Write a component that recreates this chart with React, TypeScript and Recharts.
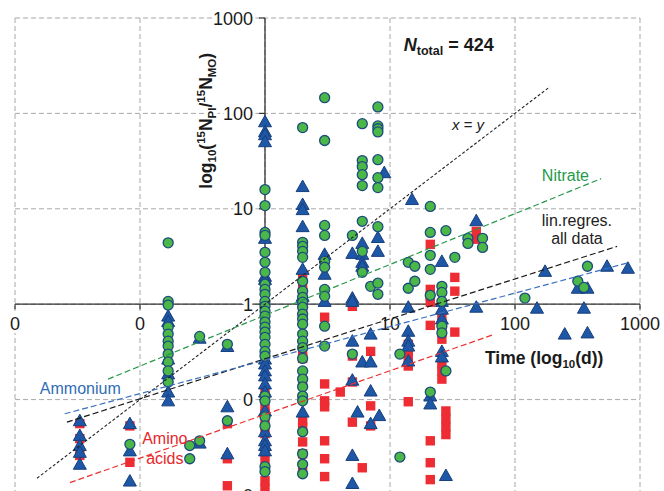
import React from 'react';
import { ScatterChart, Scatter, XAxis, YAxis, CartesianGrid, ReferenceDot } from 'recharts';

// decade ticks, shared by both log axes
const decades = [0.01, 0.1, 1, 10, 100, 1000];
const xTickLabels = ['0', '0', '1', '10', '100', '1000'];
const yTickLabels = ['0', '0', '1', '10', '100', '1000'];

// [time (d), 15N_PI / 15N_MO]
const nitrate: [number, number][] = [
  [0.083, 0.034],
  [0.168, 4.4], [0.168, 1.07], [0.168, 0.98], [0.168, 0.575], [0.168, 0.486], [0.168, 0.41],
  [0.168, 0.364], [0.168, 0.3], [0.168, 0.248], [0.168, 0.2], [0.168, 0.153],
  [0.25, 0.033], [0.25, 0.024], [0.3, 0.46], [0.3, 0.037], [0.5, 0.38], [0.5, 0.06],
  [1, 15.9], [1, 10.8], [1, 5.65], [1, 5.26], [1, 3.5], [1, 2.75], [1, 2.16], [1, 1.62], [1, 1.43],
  [1, 1.27], [1, 1.07], [1, 0.95], [1, 0.845], [1, 0.75], [1, 0.65], [1, 0.575], [1, 0.51],
  [1, 0.45], [1, 0.38], [1, 0.32], [1, 0.286], [1, 0.109], [1, 0.097], [1, 0.066], [1, 0.053],
  [1, 0.0198], [1, 0.0176],
  [2, 71], [2, 4.45], [2, 4.04], [2, 3.58], [2, 3.1], [2, 1.74], [2, 1.37], [2, 1.18], [2, 1.05],
  [2, 0.93], [2, 0.787], [2, 0.7], [2, 0.618], [2, 0.486], [2, 0.41], [2, 0.35], [2, 0.27], [2, 0.2],
  [2, 0.164], [2, 0.136], [2, 0.109], [2, 0.097], [2, 0.046], [2, 0.027], [2, 0.021], [2, 0.0167],
  [3, 146], [3, 52], [3, 6.7], [3, 5.26], [3, 2.81], [3, 2.44], [3, 1.43], [3, 1.21], [3, 0.589], [3, 0.364],
  [5, 5.26], [5, 0.3],
  [6, 78], [6, 32], [6, 27.7], [6, 22.8], [6, 17.5], [6, 7.4], [6, 3.58], [6, 2.16], [7, 1.54],
  [8, 117], [8, 74], [8, 69], [8, 64], [8, 32.7], [8, 21.2], [8, 16.7], [8, 6.5], [8, 1.66], [8, 1.27],
  [12, 0.3], [12, 0.025], [14, 2.75], [14, 1.47], [15.8, 2.5], [15.8, 1.74],
  [21, 10.6], [21, 5.65], [21, 3.25], [21, 2.32], [21, 1.24], [21, 0.12],
  [26, 1.54], [26, 1.33], [26, 1.07], [26, 0.589], [26, 0.5], [28, 5.9], [28, 0.2], [33, 3.1],
  [42, 4.9], [42, 4.34], [55, 4.9], [55, 3.94], [120, 1.16], [318, 1.74], [356, 1.5], [380, 2.5],
];

const ammonium: [number, number][] = [
  [0.033, 0.06], [0.033, 0.042], [0.033, 0.033], [0.033, 0.028], [0.033, 0.021],
  [0.083, 0.056], [0.083, 0.029], [0.083, 0.014],
  [0.168, 0.75], [0.168, 0.66], [0.168, 0.266], [0.168, 0.186], [0.168, 0.12], [0.168, 0.097],
  [0.3, 0.44], [0.3, 0.035], [0.5, 0.36], [0.5, 0.084], [0.5, 0.027],
  [1, 81.7], [1, 64.3], [1, 59.7], [1, 50.5], [1, 4.9], [1, 1.96], [1, 1.82], [1, 0.266], [1, 0.236],
  [1, 0.2], [1, 0.177], [1, 0.146], [1, 0.12], [1, 0.076], [1, 0.046], [1, 0.037], [1, 0.033], [1, 0.029],
  [2, 17.1], [2, 11.1], [2, 9.8], [2, 6.5], [2, 2.32], [2, 1.21], [2, 0.074],
  [3, 3.33], [3, 2.06], [3, 1.07],
  [5, 3.41], [5, 1.16], [5, 1.07], [5, 0.41], [5, 0.16], [5, 0.026], [5, 0.0132], [5.5, 0.074],
  [6, 4.34], [6, 3.33], [6, 2.75], [6, 2.5], [6, 0.248],
  [7, 0.486], [7, 0.248], [7, 0.123], [7, 0.056], [8, 5.0], [8, 3.58], [8.2, 0.068], [9, 23.9],
  [15, 12.5], [14, 0.93], [14, 0.52], [14, 0.41], [14, 0.364], [14, 0.254], [21, 0.109], [21, 0.09],
  [26, 2.81], [26, 1.07], [26, 0.887], [26, 0.7], [26, 0.32], [26, 0.28], [28, 0.016],
  [49, 7.5], [49, 0.93], [150, 0.908], [174, 2.21], [250, 0.486], [318, 1.47], [356, 0.908],
  [380, 1.47], [380, 0.5], [545, 2.5], [800, 2.38],
];

const aminoAcids: [number, number][] = [
  [0.033, 0.056], [0.033, 0.039], [0.033, 0.026], [0.083, 0.053], [0.083, 0.022],
  [0.5, 0.056], [0.5, 0.024], [0.5, 0.0125],
  [1, 0.123], [1, 0.084], [1, 0.071], [1, 0.056], [1, 0.044], [1, 0.029], [1, 0.023], [1, 0.0141], [1, 0.0117],
  [2, 2.06], [2, 1.62], [2, 1.33], [2, 1.07], [2, 0.887], [2, 0.787], [2, 0.38], [2, 0.32], [2, 0.27],
  [2, 0.157], [2, 0.06], [2, 0.052], [2, 0.036], [2, 0.027], [2, 0.0198],
  [3, 0.73], [3, 0.146], [3, 0.097], [3, 0.084], [3, 0.037], [3, 0.024], [3, 0.0156],
  [4, 0.12], [5, 0.95], [5, 0.286], [5, 0.153], [5, 0.058], [6, 0.0193], [7, 0.32], [7, 0.086], [7, 0.053],
  [14, 0.38], [14, 0.32], [14, 0.27], [14, 0.225], [14, 0.095],
  [21, 4.24], [21, 1.43], [21, 1.21], [21, 1.05], [21, 0.6], [21, 0.037], [21, 0.0218], [21, 0.0145],
  [26, 0.75], [26, 0.618], [26, 0.51], [26, 0.43], [26, 0.236], [26, 0.2], [26, 0.164],
  [28, 0.076], [28, 0.063], [28, 0.052], [28, 0.043],
  [33, 1.91], [33, 1.37], [33, 0.51], [49, 5.8], [49, 4.8],
];

// end points of the fitted lines
const oneToOne: [number, number][] = [[0.015, 0.015], [190, 190]];
const nitrateFit: [number, number][] = [[0.0555, 0.164], [488, 20.7]];
const allDataFit: [number, number][] = [[0.026, 0.058], [655, 4.04]];
const ammoniumFit: [number, number][] = [[0.025, 0.071], [832, 2.75]];
const aminoFit: [number, number][] = [[0.0275, 0.0135], [65.5, 0.474]];

const pts = (arr: [number, number][]) => arr.map(([x, y]) => ({ x, y }));

const FONT = '"Liberation Sans", Arial, sans-serif';

// white knock-out behind text, drawn as its own layer so tspans don't erase each other
const HaloText = ({ children, halo = 6, ...rest }: any) => (
  <g>
    <text {...rest} stroke="#fff" strokeWidth={halo} strokeLinejoin="round" fill="#fff">
      {children}
    </text>
    <text {...rest}>{children}</text>
  </g>
);

const NoDot = () => <g />;

const CircleMark = (p: any) => (
  <circle cx={p.cx} cy={p.cy} r={5} fill="#4bb749" stroke="#1d4b7d" strokeWidth={1.3} />
);
const TriangleMark = (p: any) => (
  <polygon
    points={`${p.cx},${p.cy - 6.5} ${p.cx - 6.5},${p.cy + 5} ${p.cx + 6.5},${p.cy + 5}`}
    fill="#1f57a7"
    stroke="#173f7c"
    strokeWidth={1}
  />
);
const SquareMark = (p: any) => (
  <rect x={p.cx - 4.7} y={p.cy - 4.7} width={9.4} height={9.4} fill="#ee2c33" />
);

const XTick = (p: any) => (
  <g>
    <line x1={p.cx} y1={p.cy} x2={p.cx} y2={p.cy + 5} stroke="#333" strokeWidth={1.2} />
    <HaloText x={p.cx} y={p.cy + 26} textAnchor="middle" fontSize={18} fontFamily={FONT} fill="#1a1a1a">
      {p.payload.label}
    </HaloText>
  </g>
);
const YTick = (p: any) => (
  <g>
    <line x1={p.cx - 6} y1={p.cy} x2={p.cx} y2={p.cy} stroke="#333" strokeWidth={1.2} />
    <HaloText x={p.cx - 12} y={p.cy + 6.5} textAnchor="end" fontSize={18} fontFamily={FONT} fill="#1a1a1a">
      {p.payload.label}
    </HaloText>
  </g>
);

const fitLine = (stroke: string, dash = '6 3', width = 1.2) => ({
  stroke,
  strokeWidth: width,
  strokeDasharray: dash,
});

export default function App() {
  const xTicks = decades.map((d, i) => ({ x: d, y: 1, label: xTickLabels[i] }));
  const yTicks = decades.map((d, i) => ({ x: 1, y: d, label: yTickLabels[i] }));

  return (
    <div style={{ position: 'absolute', left: 0, top: 0, width: 664, height: 491, overflow: 'hidden', background: '#fff' }}>
      <ScatterChart width={664} height={510} margin={{ top: 18, right: 24, bottom: 15, left: 15 }}>
        <CartesianGrid stroke="#a8a8a8" strokeDasharray="5 3" />
        <XAxis type="number" dataKey="x" scale="log" domain={[0.01, 1000]} ticks={decades} hide />
        <YAxis type="number" dataKey="y" scale="log" domain={[0.01, 1000]} ticks={decades} hide />

        <Scatter data={[{ x: 0.01, y: 1 }, { x: 1000, y: 1 }]} line={{ stroke: '#333', strokeWidth: 1.3 }} shape={NoDot} isAnimationActive={false} />
        <Scatter data={[{ x: 1, y: 0.01 }, { x: 1, y: 1000 }]} line={{ stroke: '#333', strokeWidth: 1.3 }} shape={NoDot} isAnimationActive={false} />
        <Scatter data={xTicks} shape={XTick} isAnimationActive={false} />
        <Scatter data={yTicks} shape={YTick} isAnimationActive={false} />

        <Scatter name="Amino acids" data={pts(aminoAcids)} shape={SquareMark} isAnimationActive={false} />
        <Scatter name="Ammonium" data={pts(ammonium)} shape={TriangleMark} isAnimationActive={false} />
        <Scatter name="Nitrate" data={pts(nitrate)} shape={CircleMark} isAnimationActive={false} />

        <Scatter data={pts(oneToOne)} line={fitLine('#222', '3 2', 1.1)} shape={NoDot} isAnimationActive={false} />
        <Scatter data={pts(nitrateFit)} line={fitLine('#27984a')} shape={NoDot} isAnimationActive={false} />
        <Scatter data={pts(allDataFit)} line={fitLine('#1a1a1a')} shape={NoDot} isAnimationActive={false} />
        <Scatter data={pts(ammoniumFit)} line={fitLine('#3a70c0')} shape={NoDot} isAnimationActive={false} />
        <Scatter data={pts(aminoFit)} line={fitLine('#ec2f2f')} shape={NoDot} isAnimationActive={false} />

        <ReferenceDot
          x={0.377}
          y={83.7}
          r={0}
          shape={(p: any) => (
            <HaloText
              x={p.cx}
              y={p.cy}
              transform={`rotate(-90 ${p.cx} ${p.cy})`}
              textAnchor="middle"
              fontSize={17.5}
              fontWeight="bold"
              fontFamily={FONT}
              fill="#1a1a1a"
            >
              log<tspan fontSize={11.5} dy={4}>10</tspan>
              <tspan dy={-4}>(</tspan>
              <tspan fontSize={11.5} dy={-7}>15</tspan>
              <tspan dy={7}>N</tspan>
              <tspan fontSize={11.5} dy={4}>PI</tspan>
              <tspan dy={-4}>/</tspan>
              <tspan fontSize={11.5} dy={-7}>15</tspan>
              <tspan dy={7}>N</tspan>
              <tspan fontSize={11.5} dy={4}>MO</tspan>
              <tspan dy={-4}>)</tspan>
            </HaloText>
          )}
        />
        <ReferenceDot
          x={57.5}
          y={0.236}
          r={0}
          shape={(p: any) => (
            <HaloText x={p.cx} y={p.cy} halo={10} fontSize={17.5} fontWeight="bold" fontFamily={FONT} fill="#1a1a1a">
              Time (log<tspan fontSize={11.5} dy={4}>10</tspan>
              <tspan dy={-4}>(d))</tspan>
            </HaloText>
          )}
        />
        <ReferenceDot
          x={12.9}
          y={451}
          r={0}
          shape={(p: any) => (
            <text x={p.cx} y={p.cy} fontSize={18} fontWeight="bold" fontFamily={FONT} fill="#1a1a1a">
              <tspan fontStyle="italic">N</tspan>
              <tspan fontSize={12.5} dy={4}>total</tspan>
              <tspan dy={-4}> = 424</tspan>
            </text>
          )}
        />
        <ReferenceDot
          x={31.3}
          y={67.4}
          r={0}
          shape={(p: any) => (
            <text x={p.cx} y={p.cy} fontSize={15} fontStyle="italic" fontFamily={FONT} fill="#222">
              x = y
            </text>
          )}
        />
        <ReferenceDot
          x={164}
          y={19.5}
          r={0}
          shape={(p: any) => (
            <text x={p.cx} y={p.cy} fontSize={16} fontFamily={FONT} fill="#239a4a">
              Nitrate
            </text>
          )}
        />
        <ReferenceDot
          x={313}
          y={6.53}
          r={0}
          shape={(p: any) => (
            <text x={p.cx} y={p.cy} fontSize={16} textAnchor="middle" fontFamily={FONT} fill="#222">
              <tspan x={p.cx}>lin.regres.</tspan>
              <tspan x={p.cx} dy={18}>all data</tspan>
            </text>
          )}
        />
        <ReferenceDot
          x={0.0158}
          y={0.115}
          r={0}
          shape={(p: any) => (
            <text x={p.cx} y={p.cy} fontSize={16} fontFamily={FONT} fill="#2f6db5">
              Ammonium
            </text>
          )}
        />
        <ReferenceDot
          x={0.158}
          y={0.0344}
          r={0}
          shape={(p: any) => (
            <text x={p.cx} y={p.cy} fontSize={16} textAnchor="middle" fontFamily={FONT} fill="#e8262b">
              <tspan x={p.cx}>Amino</tspan>
              <tspan x={p.cx} dy={20}>acids</tspan>
            </text>
          )}
        />
      </ScatterChart>
    </div>
  );
}
